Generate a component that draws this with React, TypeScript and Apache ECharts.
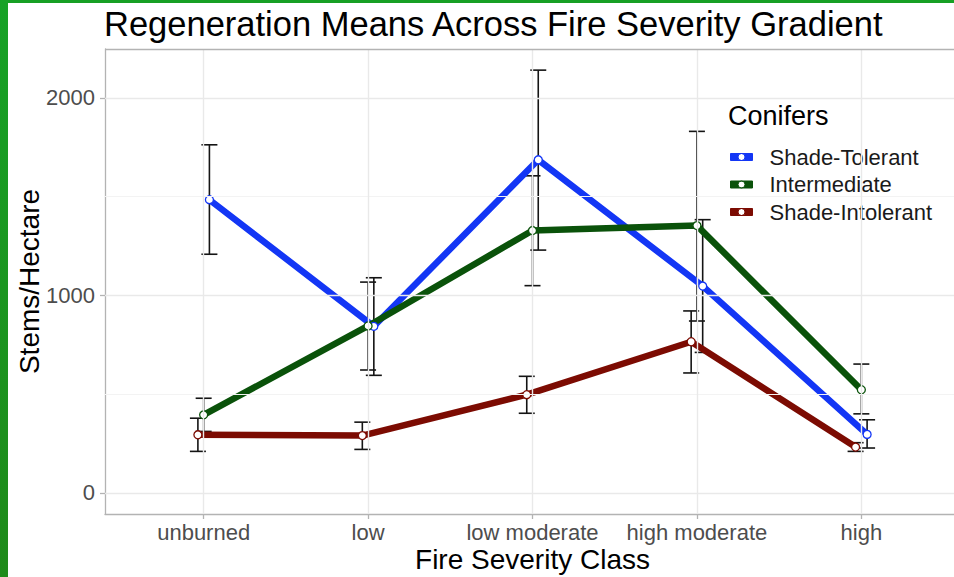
import React, { useEffect, useRef } from "react";
import * as echarts from "echarts";

const categories = ["unburned", "low", "low moderate", "high moderate", "high"];

const seriesNames = ["Shade-Tolerant", "Intermediate", "Shade-Intolerant"];

const shadeTolerantMean = [1484, 843, 1686, 1047, 296];
const shadeTolerantLow = [1208, 595, 1229, 711, 227];
const shadeTolerantHigh = [1762, 1089, 2140, 1383, 370];

const intermediateMean = [395, 845, 1328, 1353, 522];
const intermediateLow = [311, 622, 1049, 870, 400];
const intermediateHigh = [479, 1067, 1605, 1830, 652];

const shadeIntolerantMean = [294, 290, 497, 765, 232];
const shadeIntolerantLow = [210, 220, 403, 607, 210];
const shadeIntolerantHigh = [378, 358, 590, 921, 254];

const yTicks = [0, 1000, 2000];
const yMinorTicks = [500, 1500];
const Y_MIN = -107;
const Y_MAX = 2247;

const FONT = "'Liberation Sans', Arial, Helvetica, sans-serif";

const KEY_ICON =
  "path://M0 0H22V7H0Z M14.5 3.5A3.5 3.5 0 1 0 7.5 3.5A3.5 3.5 0 1 0 14.5 3.5Z";

export default function App() {
  const ref = useRef<HTMLDivElement>(null);

  useEffect(() => {
    document.body.style.margin = "0";
    const chart = echarts.init(ref.current as HTMLDivElement, null, { renderer: "svg" });

    const groups = [
      { name: seriesNames[0], color: "#1336F5", mean: shadeTolerantMean, lo: shadeTolerantLow, hi: shadeTolerantHigh, dodge: 0.035 },
      { name: seriesNames[1], color: "#0A520A", mean: intermediateMean, lo: intermediateLow, hi: intermediateHigh, dodge: 0 },
      { name: seriesNames[2], color: "#7C0B02", mean: shadeIntolerantMean, lo: shadeIntolerantLow, hi: shadeIntolerantHigh, dodge: -0.035 },
    ];

    const xIdx = categories.map((_, i) => i);

    const gridSeries: any = {
      type: "line",
      name: "__grid",
      data: [],
      z: 0,
      silent: true,
      markLine: {
        silent: true,
        symbol: ["none", "none"],
        label: { show: false },
        animation: false,
        data: [
          ...yMinorTicks.map((v) => ({ yAxis: v, lineStyle: { color: "#f3f3f3", width: 1, type: "solid" } })),
          ...yTicks.map((v) => ({ yAxis: v, lineStyle: { color: "#e9e9e9", width: 1.4, type: "solid" } })),
          ...xIdx.map((v) => ({ xAxis: v, lineStyle: { color: "#e9e9e9", width: 1.4, type: "solid" } })),
          { yAxis: Y_MAX, lineStyle: { color: "#b3b3b3", width: 1.3, type: "solid" } },
        ],
      },
    };

    const errSeries = groups.map((g, gi) => ({
      type: "custom",
      name: "__err" + gi,
      z: 1,
      silent: true,
      data: g.mean.map((_, i) => [i + g.dodge, g.lo[i], g.hi[i]]),
      encode: { x: 0, y: [1, 2] },
      renderItem: (params: any, api: any) => {
        const x = api.value(0);
        const top = api.coord([x, api.value(2)]);
        const bot = api.coord([x, api.value(1)]);
        const hw = 8;
        const style = { stroke: "#141414", lineWidth: 1.6 };
        return {
          type: "group",
          children: [
            { type: "line", shape: { x1: top[0], y1: top[1], x2: bot[0], y2: bot[1] }, style },
            { type: "line", shape: { x1: top[0] - hw, y1: top[1], x2: top[0] + hw, y2: top[1] }, style },
            { type: "line", shape: { x1: bot[0] - hw, y1: bot[1], x2: bot[0] + hw, y2: bot[1] }, style },
          ],
        };
      },
    }));

    const lineSeries = groups.map((g) => ({
      type: "line",
      name: g.name,
      z: 2,
      data: g.mean.map((v, i) => [i + g.dodge, v]),
      color: g.color,
      symbol: "circle",
      symbolSize: 8,
      showSymbol: true,
      lineStyle: { color: g.color, width: 6.5 },
      itemStyle: { color: "#ffffff", borderColor: g.color, borderWidth: 1.3 },
      emphasis: { disabled: true },
    }));

    const option: any = {
      animation: false,
      backgroundColor: "#ffffff",
      textStyle: { fontFamily: FONT },
      title: {
        text: "Regeneration Means Across Fire Severity Gradient",
        left: 104,
        top: 6,
        padding: 0,
        textStyle: { fontSize: 34.5, fontWeight: "normal", color: "#000000", fontFamily: FONT },
      },
      grid: {
        left: 105,
        top: 49,
        width: 855,
        height: 465,
        show: false,
        containLabel: false,
        outerBoundsMode: "none",
      },
      xAxis: {
        type: "value",
        min: -0.6,
        max: 4.6,
        name: "Fire Severity Class",
        nameLocation: "middle",
        nameGap: 31,
        nameMoveOverlap: false,
        nameTextStyle: { fontSize: 28, color: "#000000", fontFamily: FONT },
        axisLine: { show: true, onZero: false, lineStyle: { color: "#b3b3b3", width: 1.3 } },
        axisTick: { show: true, length: 5, customValues: xIdx, lineStyle: { color: "#b3b3b3", width: 1.3 } },
        axisLabel: {
          customValues: xIdx,
          formatter: (v: number) => categories[Math.round(v)] ?? "",
          fontSize: 22,
          color: "#4d4d4d",
          margin: 7,
          fontFamily: FONT,
        },
        splitLine: { show: false },
      },
      yAxis: {
        type: "value",
        min: Y_MIN,
        max: Y_MAX,
        name: "Stems/Hectare",
        nameLocation: "middle",
        nameGap: 62,
        nameMoveOverlap: false,
        nameTextStyle: { fontSize: 28, color: "#000000", fontFamily: FONT },
        axisLine: { show: true, onZero: false, lineStyle: { color: "#b3b3b3", width: 1.3 } },
        axisTick: { show: true, length: 5, customValues: yTicks, lineStyle: { color: "#b3b3b3", width: 1.3 } },
        axisLabel: {
          customValues: yTicks,
          formatter: (v: number) => String(v),
          fontSize: 22,
          color: "#4d4d4d",
          margin: 10,
          fontFamily: FONT,
        },
        splitLine: { show: false },
      },
      legend: {
        data: groups.map((g) => ({
          name: g.name,
          icon: KEY_ICON,
          itemStyle: { color: g.color, borderColor: g.color, borderWidth: 1 },
        })),
        orient: "vertical",
        left: 730,
        top: 146,
        padding: 0,
        itemWidth: 22,
        itemHeight: 7,
        itemGap: 5.5,
        textStyle: { fontSize: 22, lineHeight: 22, color: "#1a1a1a", fontFamily: FONT, padding: [0, 0, 0, 12] },
        selectedMode: false,
      },
      graphic: [
        {
          type: "text",
          left: 728,
          top: 102,
          style: { text: "Conifers", fontSize: 27, fill: "#000000", fontFamily: FONT },
        },
        {
          type: "rect",
          left: 0,
          top: 0,
          shape: { width: 954, height: 3 },
          style: { fill: "#17a024" },
          z: 100,
        },
        {
          type: "rect",
          left: 0,
          top: 0,
          shape: { width: 8, height: 577 },
          style: {
            fill: new echarts.graphic.LinearGradient(0, 0, 0, 1, [
              { offset: 0, color: "#17a226" },
              { offset: 1, color: "#1f8a1a" },
            ]),
          },
          z: 100,
        },
      ],
      series: [gridSeries, ...errSeries, ...lineSeries],
    };

    chart.setOption(option);
    return () => chart.dispose();
  }, []);

  return (
    <div
      ref={ref}
      style={{ position: "absolute", left: 0, top: 0, width: 954, height: 577, background: "#ffffff" }}
    />
  );
}
